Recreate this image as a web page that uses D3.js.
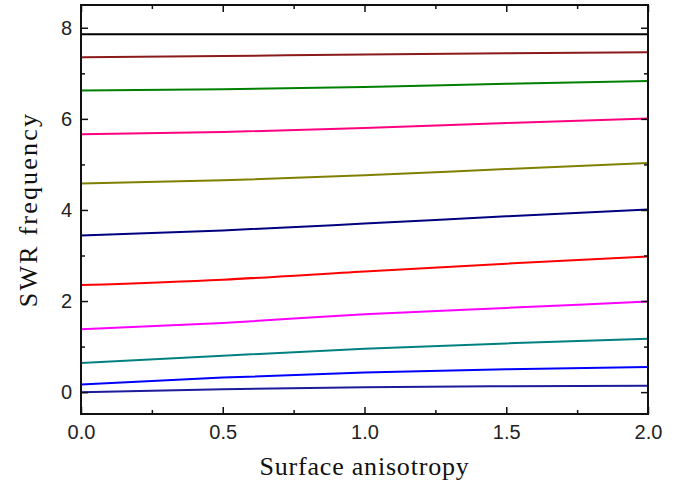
<!DOCTYPE html>
<html>
<head>
<meta charset="utf-8">
<script src="https://cdn.jsdelivr.net/npm/d3@7"></script>
<style>
  body { margin: 0; background: #fff; }
  .tick text { font-family: "Liberation Sans", Arial, sans-serif; font-size: 20px; fill: #222; }
  .title { font-family: "Liberation Serif", "Times New Roman", serif; font-size: 26px; fill: #111; }
</style>
</head>
<body>
<svg id="chart"></svg>
<script>
// surface anisotropy values where curves were read
const xs = [0, 0.5, 1.0, 1.5, 2.0];

// SWR frequency modes, bottom to top
const modes = [
  { name: "m1",  color: "#1c1c9a", values: [0.00, 0.065, 0.11, 0.13, 0.14] },
  { name: "m2",  color: "#0000ff", values: [0.17, 0.32, 0.43, 0.50, 0.55] },
  { name: "m3",  color: "#008080", values: [0.64, 0.80, 0.95, 1.07, 1.17] },
  { name: "m4",  color: "#ff00ff", values: [1.38, 1.52, 1.71, 1.85, 1.99] },
  { name: "m5",  color: "#ff0000", values: [2.35, 2.47, 2.65, 2.82, 2.98] },
  { name: "m6",  color: "#000080", values: [3.44, 3.55, 3.70, 3.86, 4.01] },
  { name: "m7",  color: "#808000", values: [4.58, 4.65, 4.76, 4.90, 5.03] },
  { name: "m8",  color: "#ff0080", values: [5.66, 5.71, 5.80, 5.91, 6.01] },
  { name: "m9",  color: "#008000", values: [6.62, 6.65, 6.70, 6.77, 6.83] },
  { name: "m10", color: "#8b1a1a", values: [7.35, 7.38, 7.415, 7.44, 7.46] },
  { name: "m11", color: "#000000", values: [7.86, 7.86, 7.86, 7.86, 7.86] }
];

const xTicks = [0, 0.5, 1.0, 1.5, 2.0];
const yTicks = [0, 2, 4, 6, 8];

const width = 678, height = 491;
const margin = { top: 5, right: 30, bottom: 77, left: 81 };

const svg = d3.select("#chart")
  .attr("width", width)
  .attr("height", height);

const x = d3.scaleLinear()
  .domain([0, 2])
  .range([margin.left, width - margin.right]);

const y = d3.scaleLinear()
  .domain([-0.48, 8.5])
  .range([height - margin.bottom, margin.top]);

const xMinor = d3.range(0.25, 2, 0.5);
const yMinor = d3.range(1, 9, 2);

// lines
const line = d3.line()
  .x((d, i) => x(xs[i]))
  .y(d => y(d))
  .curve(d3.curveMonotoneX);

svg.append("g")
  .selectAll("path")
  .data(modes)
  .join("path")
  .attr("fill", "none")
  .attr("stroke", d => d.color)
  .attr("stroke-width", 2)
  .attr("d", d => line(d.values));

// axes, ticks pointing inward
svg.append("g")
  .attr("transform", `translate(0,${y.range()[0]})`)
  .call(d3.axisBottom(x).tickValues(xTicks).tickFormat(d3.format(".1f")).tickSizeInner(-7).tickSizeOuter(0).tickPadding(11));
svg.append("g")
  .attr("transform", `translate(0,${y.range()[0]})`)
  .call(d3.axisBottom(x).tickValues(xMinor).tickFormat("").tickSizeInner(-4).tickSizeOuter(0));

svg.append("g")
  .attr("transform", `translate(${margin.left},0)`)
  .call(d3.axisLeft(y).tickValues(yTicks).tickSizeInner(-7).tickSizeOuter(0).tickPadding(9));
svg.append("g")
  .attr("transform", `translate(${margin.left},0)`)
  .call(d3.axisLeft(y).tickValues(yMinor).tickFormat("").tickSizeInner(-4).tickSizeOuter(0));

// top and right mirror ticks
svg.append("g")
  .attr("transform", `translate(0,${margin.top})`)
  .call(d3.axisTop(x).tickValues(xTicks).tickFormat("").tickSizeInner(-7).tickSizeOuter(0));
svg.append("g")
  .attr("transform", `translate(0,${margin.top})`)
  .call(d3.axisTop(x).tickValues(xMinor).tickFormat("").tickSizeInner(-4).tickSizeOuter(0));
svg.append("g")
  .attr("transform", `translate(${width - margin.right},0)`)
  .call(d3.axisRight(y).tickValues(yTicks).tickFormat("").tickSizeInner(-7).tickSizeOuter(0));
svg.append("g")
  .attr("transform", `translate(${width - margin.right},0)`)
  .call(d3.axisRight(y).tickValues(yMinor).tickFormat("").tickSizeInner(-4).tickSizeOuter(0));

svg.selectAll(".domain").remove();
svg.selectAll(".tick line").attr("stroke", "#111").attr("stroke-width", 1.5);

// frame
svg.append("rect")
  .attr("x", x(0))
  .attr("y", y(8.5))
  .attr("width", x(2) - x(0))
  .attr("height", y(-0.48) - y(8.5))
  .attr("fill", "none")
  .attr("stroke", "#111")
  .attr("stroke-width", 2);

// titles
svg.append("text")
  .attr("class", "title")
  .attr("x", (x(0) + x(2)) / 2)
  .attr("y", 475)
  .attr("text-anchor", "middle")
  .attr("letter-spacing", 0.8)
  .text("Surface anisotropy");

svg.append("text")
  .attr("class", "title")
  .attr("transform", `translate(37,${(y(8.5) + y(-0.48)) / 2}) rotate(-90)`)
  .attr("text-anchor", "middle")
  .attr("letter-spacing", 2.2)
  .text("SWR frequency");
</script>
</body>
</html>
